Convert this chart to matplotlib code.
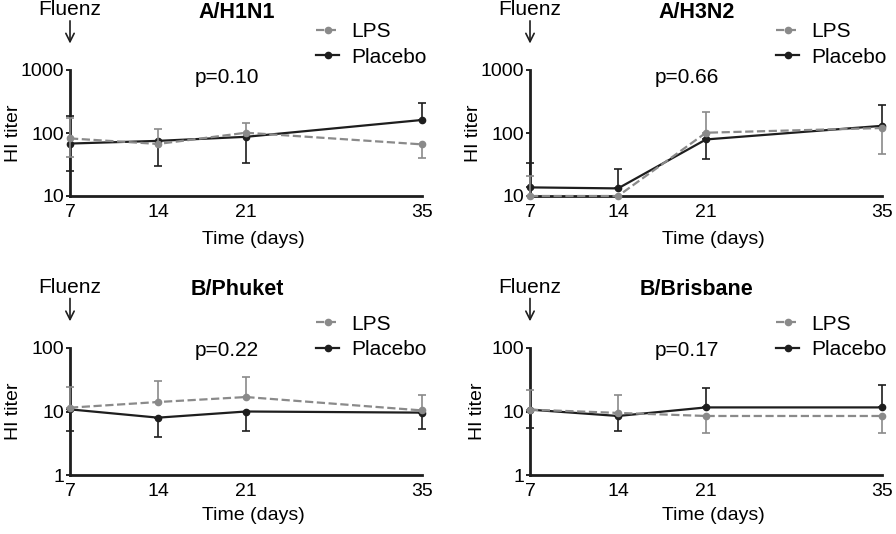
import numpy as np
import matplotlib
matplotlib.use("Agg")
import matplotlib.pyplot as plt
from matplotlib.lines import Line2D

plt.rcParams['font.family'] = ['Liberation Sans', 'DejaVu Sans']
plt.rcParams['font.size'] = 14

# data (geometric mean titers, error bar ends;
# an end equal to the mean means that side of the bar is not drawn)
days = [7, 14, 21, 35]
strains = ["A/H1N1", "A/H3N2", "B/Phuket", "B/Brisbane"]
pvals = ["p=0.10", "p=0.66", "p=0.22", "p=0.17"]

lps_mean = [[82, 67, 101, 66], [10, 10, 101, 120], [11.5, 14.1, 16.9, 10.4], [10.7, 9.5, 8.5, 8.5]]
lps_low = [[42, 67, 101, 40], [10, 10, 101, 46], [11.5, 14.1, 16.9, 10.4], [10.7, 9.5, 4.66, 4.66]]
lps_high = [[171, 114, 143, 66], [20.7, 10, 218, 120], [24, 30, 34.7, 18.4], [21.5, 18.4, 8.5, 8.5]]

plc_mean = [[68, 75, 87, 161], [13.7, 13.2, 79, 130], [10.8, 8, 10, 9.6], [10.7, 8.5, 11.6, 11.6]]
plc_low = [[25, 30, 33, 161], [13.7, 13.2, 38.6, 130], [5, 4, 4.9, 5.3], [5.5, 5, 11.6, 11.6]]
plc_high = [[188, 75, 87, 303], [33, 27, 79, 275], [10.8, 8, 10, 9.6], [10.7, 8.5, 23.4, 26.3]]

ylims = [(10, 1000), (10, 1000), (1, 100), (1, 100)]

gray = '#8a8a8a'
dark = '#1e1e1e'

fig = plt.figure(figsize=(8.96, 5.34), dpi=100)
W, H = 896, 534
boxes = [(70, 70, 422, 196), (530, 70, 882, 196), (70, 348, 422, 475), (530, 348, 882, 475)]

for i in range(4):
    l, t, r, b = boxes[i]
    ax = fig.add_axes([l / W, 1 - b / H, (r - l) / W, (b - t) / H])
    m = np.array(plc_mean[i])
    ax.errorbar(days, m, yerr=[m - np.array(plc_low[i]), np.array(plc_high[i]) - m],
                color=dark, lw=1.6, marker='o', ms=4.5, capsize=3, elinewidth=1.2,
                capthick=1.2, clip_on=False, zorder=3)
    m = np.array(lps_mean[i])
    ax.errorbar(days, m, yerr=[m - np.array(lps_low[i]), np.array(lps_high[i]) - m],
                color=gray, lw=1.6, ls='--', marker='o', ms=4.5, capsize=3, elinewidth=1.2,
                capthick=1.2, clip_on=False, zorder=4)

    ax.set_yscale('log')
    ax.set_ylim(*ylims[i])
    ax.set_xlim(7, 35)
    ax.set_xticks(days)
    ax.set_xticklabels([str(d) for d in days])
    ax.yaxis.set_minor_locator(matplotlib.ticker.NullLocator())
    lo, hi = ylims[i]
    yt = [lo, lo * 10, hi]
    ax.set_yticks(yt)
    ax.set_yticklabels([str(v) for v in yt])
    ax.tick_params(axis='both', labelsize=14)
    ax.tick_params(axis='x', length=0, pad=6)
    ax.tick_params(axis='y', length=3, width=1.2, pad=1)
    for s in ['top', 'right']:
        ax.spines[s].set_visible(False)
    for s in ['left', 'bottom']:
        ax.spines[s].set_linewidth(2)
        ax.spines[s].set_color(dark)

    ax.set_ylabel('HI titer', fontsize=14)
    ax.set_xlabel('Time (days)', fontsize=14)
    upper = i < 2
    ax.yaxis.set_label_coords(-0.135 if i != 3 else -0.125, 0.5)
    ax.xaxis.set_label_coords(0.52, -0.28 if upper else -0.255)

    ax.text(0.474, 1.46, strains[i], transform=ax.transAxes, ha='center', va='center',
            fontweight='bold', fontsize=15.5)
    ax.text(0.445, 0.94 if upper else 0.98, pvals[i], transform=ax.transAxes,
            ha='center', va='center', fontsize=15)
    ax.text(0.0, 1.48, 'Fluenz', transform=ax.transAxes, ha='center', va='center', fontsize=15)
    ax.annotate('', xy=(0.0, 1.21), xytext=(0.0, 1.39), xycoords='axes fraction',
                arrowprops=dict(arrowstyle='->', lw=1.2, color=dark, mutation_scale=15,
                                shrinkA=0, shrinkB=0))

    hs = [Line2D([], [], color=gray, ls='--', lw=1.6, marker='o', ms=4.5),
          Line2D([], [], color=dark, lw=1.6, marker='o', ms=4.5)]
    ax.legend(hs, ['LPS', 'Placebo'], frameon=False, loc='upper left', fontsize=15,
              bbox_to_anchor=(0.67, 1.46 if upper else 1.345), handlelength=1.1,
              labelspacing=0.3, borderpad=0, handletextpad=0.6)

fig.savefig('out.png', dpi=100)
